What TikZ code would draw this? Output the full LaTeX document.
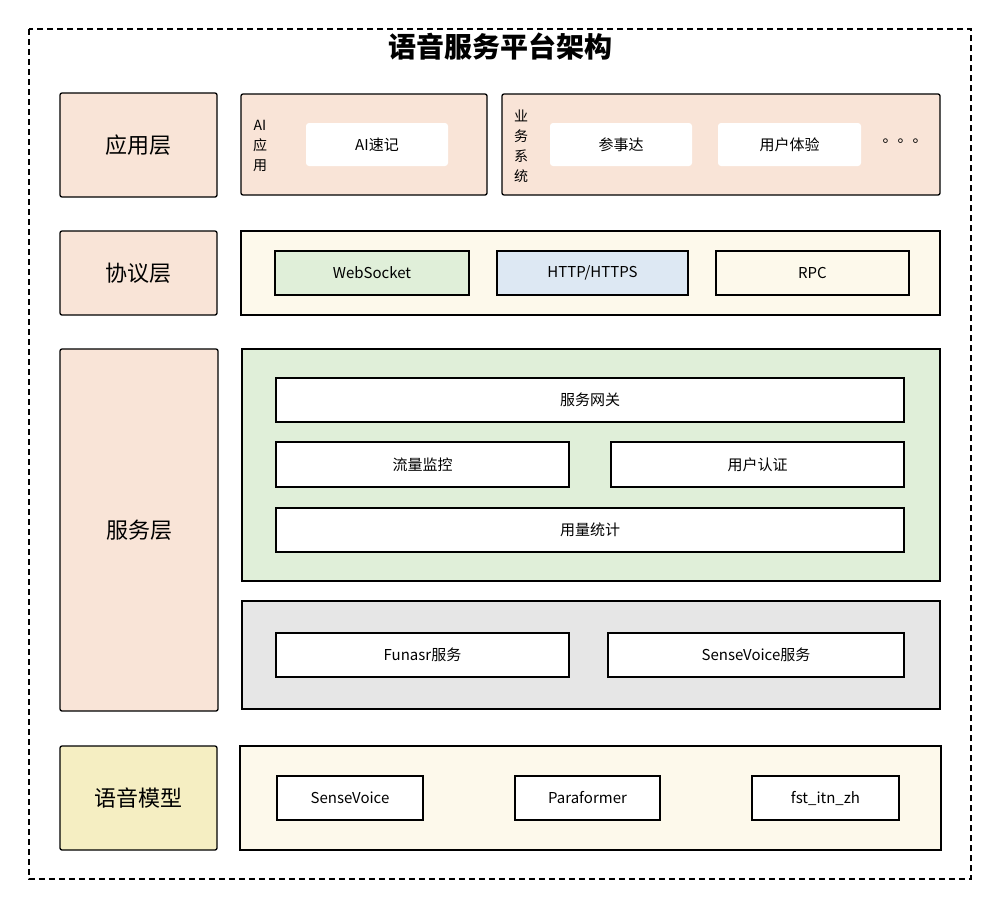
\documentclass[tikz,border=0pt]{standalone}
\usepackage{fontspec}
\setmainfont{Noto Sans CJK SC}
\usetikzlibrary{positioning}
\definecolor{peach}{HTML}{F9E4D7}
\definecolor{cream}{HTML}{FDF9EB}
\definecolor{leaf}{HTML}{E0EFD9}
\definecolor{sky}{HTML}{DDE8F3}
\definecolor{fog}{HTML}{E6E6E6}
\definecolor{straw}{HTML}{F5EEC2}
\begin{document}
\begin{tikzpicture}[x=1pt,y=-1pt,
    layer/.style={draw,line width=1.3pt,rounded corners=2pt,font=\fontsize{22}{26}\selectfont},
    panel/.style={draw,line width=1.3pt,rounded corners=2pt},
    item/.style={draw,line width=1.3pt,fill=white,font=\fontsize{15}{18}\selectfont},
    tag/.style={font=\fontsize{14}{20}\selectfont,align=center}
    ]
    \useasboundingbox (0,0) rectangle (1000,907);
    \draw[line width=1.5pt,dash pattern=on 6pt off 4pt] (29,29) rectangle (971,879);
    \node (title) at (500,47) {\fontsize{28}{32}\selectfont\bfseries 语音服务平台架构};

    % layers
    \node (app) [layer,fill=peach,minimum width=157,minimum height=104] at (138.5,145) {应用层};
    \node (proto) [layer,fill=peach,minimum width=157,minimum height=84] at (138.5,273) {协议层};
    \node (svc) [layer,fill=peach,minimum width=158,minimum height=362] at (139,530) {服务层};
    \node (model) [layer,fill=straw,minimum width=157,minimum height=104] at (138.5,798) {语音模型};

    % panels
    \draw[panel,fill=peach] (241,94) rectangle (487,195);
    \draw[panel,fill=peach] (502,94) rectangle (940,195);
    \draw[panel,fill=cream,rounded corners=0pt] (241,231) rectangle (940,315);
    \draw[panel,fill=leaf,rounded corners=0pt] (242,349) rectangle (940,581);
    \draw[panel,fill=fog,rounded corners=0pt] (242,601) rectangle (940,709);
    \draw[panel,fill=cream,rounded corners=0pt] (240,746) rectangle (941,850);

    % application layer
    \node (ai) [tag] at (260,146) {AI\\应\\用};
    \node (biz) [tag] at (521,146) {业\\务\\系\\统};
    \node (note) [item,draw=none,rounded corners=3pt,minimum width=142,minimum height=43] at (377,144.5) {AI速记};
    \node (csd) [item,draw=none,rounded corners=3pt,minimum width=142,minimum height=43] at (621,144.5) {参事达};
    \node (ux) [item,draw=none,rounded corners=3pt,minimum width=143,minimum height=43] at (789.5,144.5) {用户体验};
    \node (more) at (905,141) {\fontsize{15}{18}\selectfont 。。。};

    % protocol layer
    \node (ws) [item,fill=leaf,minimum width=194,minimum height=44] at (372,273) {WebSocket};
    \node (http) [item,fill=sky,minimum width=191,minimum height=44] at (592.5,273) {HTTP/HTTPS};
    \node (rpc) [item,fill=cream,minimum width=193,minimum height=44] at (812.5,273) {RPC};

    % service layer
    \node (gw) [item,minimum width=628,minimum height=44] at (590,400) {服务网关};
    \node (flow) [item,minimum width=293,minimum height=45] at (422.5,464.5) {流量监控};
    \node (auth) [item,minimum width=293,minimum height=45] at (757.5,464.5) {用户认证};
    \node (usage) [item,minimum width=628,minimum height=44] at (590,530) {用量统计};
    \node (funasr) [item,minimum width=293,minimum height=44] at (422.5,655) {Funasr服务};
    \node (sv) [item,minimum width=296,minimum height=44] at (756,655) {SenseVoice服务};

    % model layer
    \node (m1) [item,minimum width=146,minimum height=44] at (350,798) {SenseVoice};
    \node (m2) [item,minimum width=145,minimum height=44] at (587.5,798) {Paraformer};
    \node (m3) [item,minimum width=147,minimum height=44] at (825.5,798) {fst\_itn\_zh};
\end{tikzpicture}
\end{document}
